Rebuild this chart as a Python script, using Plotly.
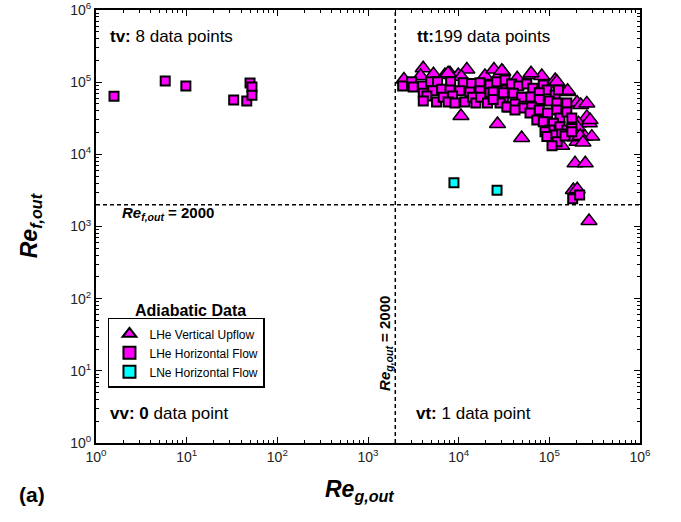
import plotly.graph_objects as go

# ---- data ----
# LHe Vertical Upflow (triangles)
vu_x = [2490, 4060, 3800, 5270, 7060, 8020, 9900, 12300, 10700, 19500, 24500, 30700, 26300,
        10600, 26800, 7650, 29900, 44200, 62300, 82500, 116000, 126000, 159000, 202000,
        222000, 259000, 210000, 276000, 49500, 247000, 202000, 294000, 202000, 137000,
        192000, 218000, 235000, 159000, 259000, 281000, 62800, 121000,
        192000, 249000, 184000, 203000, 274000]
vu_y = [109000, 156000, 122000, 129000, 126000, 133000, 126000, 150000, 119000, 122000, 150000, 139000, 113000,
        34000, 26300, 133000, 144000, 113000, 126000, 122000, 107000, 94400, 73300, 52100,
        48200, 33000, 27000, 27000, 16800, 17600, 24100, 17600, 14900, 13100,
        17300, 17900, 14600, 76000, 50800, 29900, 133000, 101000,
        7500, 7500, 3200, 3280, 1190]

# LHe Horizontal Flow (squares)
hf_x = [1.58, 5.8, 9.8, 33, 46, 50, 52.5, 52.5,
        2410, 3030, 4000, 4920, 5850, 8160, 11200, 13900, 17200, 22100, 28000, 33300,
        3150, 4070, 5170, 6500, 8020, 10300, 13300, 17200, 22100, 26800,
        4460, 4070, 5700, 6760, 8580, 7650, 9100, 11700, 14200, 15500, 17500, 20800,
        24500, 31100, 28600, 35200,
        26300, 32500, 38400, 46000, 56400, 65700, 85800, 93900, 116000, 126000,
        24000, 31100, 40000, 49500, 62500, 77400, 77400, 99800, 121000, 156000,
        24000, 34000, 41800, 51500, 64000, 77400, 95500, 121000, 131000, 156000,
        177000, 41800, 61200, 72800, 85800, 111000, 131000, 156000, 102000, 116000,
        137000, 177000, 89600, 93900, 122000, 107000, 149000, 177000,
        181000, 216000]
hf_y = [64000, 104000, 88500, 56600, 54800, 97000, 86000, 66000,
        88600, 101000, 88600, 101000, 101000, 101000, 98000, 96200, 98000, 91400, 86000, 77900,
        86000, 70100, 76200, 79600, 77900, 76200, 73300, 76200, 71500, 70100,
        64300, 54900, 53100, 61800, 64300, 53100, 51600, 53100, 61800, 51600, 61800, 51600,
        57500, 61800, 51600, 45300,
        101000, 107000, 94400, 88600, 94400, 82500, 91400, 77900, 66400, 77900,
        73300, 71500, 70100, 61800, 62500, 71500, 57500, 54900, 51600, 51600,
        57500, 45300, 49700, 43900, 45300, 41100, 37400, 41100, 31900, 38700,
        31900, 41100, 37400, 29900, 28200, 27000, 24100, 21700, 21700, 18500,
        19100, 22800, 20500, 17600, 14900, 13100, 17900, 20500,
        2430, 2730]

# LNe Horizontal Flow (squares)
ne_x = [8870, 26500]
ne_y = [4040, 3170]

tick_vals = [1, 10, 100, 1000, 10000, 100000, 1000000]
tick_text = ["10<sup>0</sup>", "10<sup>1</sup>", "10<sup>2</sup>", "10<sup>3</sup>",
             "10<sup>4</sup>", "10<sup>5</sup>", "10<sup>6</sup>"]
threshold = 2000

FONT = "Arial, Liberation Sans, sans-serif"

fig = go.Figure()
fig.add_trace(go.Scatter(
    x=vu_x, y=vu_y, mode="markers", name="LHe Vertical Upflow",
    marker=dict(symbol="triangle-up", size=14, color="#FF00FF",
                line=dict(color="black", width=1.5))))
fig.add_trace(go.Scatter(
    x=hf_x, y=hf_y, mode="markers", name="LHe Horizontal Flow",
    marker=dict(symbol="square", size=9, color="#FF00FF",
                line=dict(color="black", width=2))))
fig.add_trace(go.Scatter(
    x=ne_x, y=ne_y, mode="markers", name="LNe Horizontal Flow",
    marker=dict(symbol="square", size=9, color="#00FFFF",
                line=dict(color="black", width=2))))

axis_common = dict(
    type="log", range=[0, 6], tickvals=tick_vals, ticktext=tick_text,
    automargin=False,
    showline=True, linecolor="black", linewidth=2, mirror="ticks",
    ticks="inside", ticklen=6, tickwidth=1.2, tickcolor="black",
    showgrid=False, zeroline=False,
    tickfont=dict(family=FONT, size=14, color="#222"),
    minor=dict(ticks="inside", ticklen=3, tickwidth=1, tickcolor="black",
               dtick="D1", showgrid=False),
)

fig.update_layout(
    width=681, height=522,
    margin=dict(l=96, r=41, t=10, b=79),
    paper_bgcolor="white", plot_bgcolor="white",
    xaxis=axis_common, yaxis=axis_common,
    showlegend=True,
    legend=dict(x=0.022, y=0.289, xanchor="left", yanchor="top",
                bordercolor="black", borderwidth=1.5, bgcolor="white",
                font=dict(family=FONT, size=12, color="black"),
                itemsizing="constant", tracegroupgap=0),
    font=dict(family=FONT, color="black"),
)

fig.add_shape(type="line", xref="x", yref="paper", x0=threshold, x1=threshold, y0=0, y1=1,
              line=dict(color="black", width=1.5, dash="4px,3px"))
fig.add_shape(type="line", xref="paper", yref="y", x0=0, x1=1, y0=threshold, y1=threshold,
              line=dict(color="black", width=1.5, dash="4px,3px"))

def ann(text, x, y, size, xanchor="left", yanchor="middle", angle=0):
    fig.add_annotation(text=text, x=x, y=y, xref="paper", yref="paper", showarrow=False,
                       xanchor=xanchor, yanchor=yanchor, textangle=angle,
                       font=dict(family=FONT, size=size, color="black"))

ann("<b>tv:</b> 8 data points", 0.022, 0.938, 17)
ann("<b>tt:</b>199 data points", 0.586, 0.938, 17)
ann("<b>vv:</b> <b>0</b> data point", 0.022, 0.069, 17)
ann("<b>vt:</b> 1 data point", 0.585, 0.069, 17)
ann("<b><i>Re<sub>f,out</sub></i> = 2000</b>", 0.044, 0.531, 15)
ann("<b><i>Re<sub>g,out</sub></i> = 2000</b>", 0.533, 0.231, 15, xanchor="center", angle=-90)
ann("<b>Adiabatic Data</b>", 0.173, 0.307, 16, xanchor="center")
ann("<b><i>Re<sub>g,out</sub></i></b>", 0.485, -0.109, 23, xanchor="center")
ann("<b><i>Re<sub>f,out</sub></i></b>", -0.121, 0.501, 23, xanchor="center", angle=-90)
ann("<b>(a)</b>", -0.145, -0.12, 21)

fig.write_html("out.html", config={"displayModeBar": False},
               post_script="document.body.style.margin='0px';document.body.style.overflow='hidden';")
